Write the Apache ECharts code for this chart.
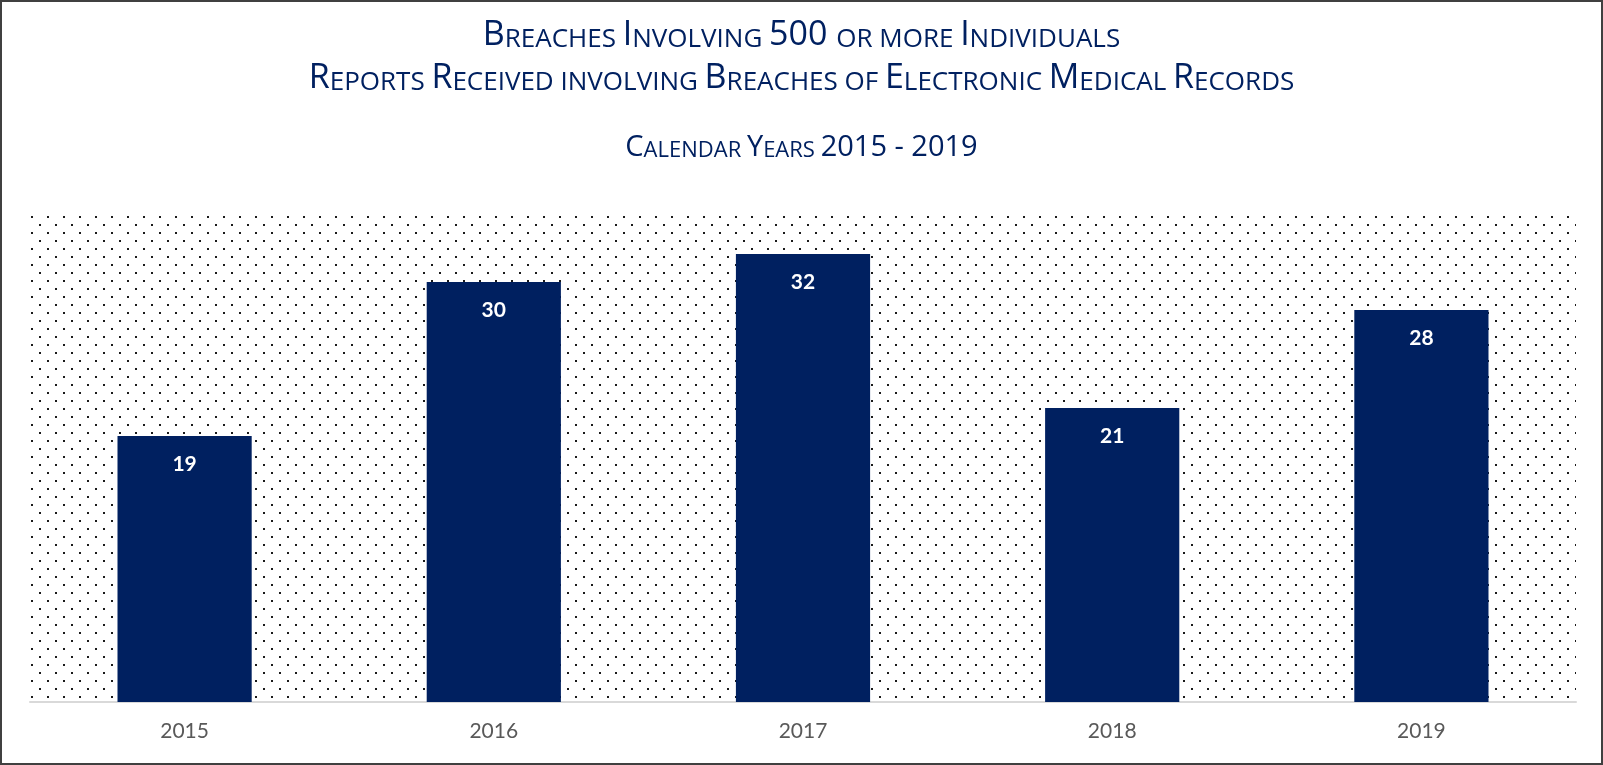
<!DOCTYPE html>
<html>
<head>
<meta charset="utf-8">
<script src="https://cdn.jsdelivr.net/npm/echarts@6/dist/echarts.min.js"></script>
<style>
  html, body { margin: 0; padding: 0; background: #ffffff; }
  #chart { width: 1603px; height: 765px; }
</style>
</head>
<body>
<div id="chart"></div>
<script>
// Chart data
const years = ['2015', '2016', '2017', '2018', '2019'];
const breaches = [19, 30, 32, 21, 28];
const titleLines = [
  'Breaches Involving 500 or more Individuals',
  'Reports Received involving Breaches of Electronic Medical Records',
  'Calendar Years 2015 - 2019'
];

const NAVY = '#002060';
const FONT = 'Lato, "Open Sans", sans-serif';
const TITLE_FONT = '"Open Sans", Lato, sans-serif';

// Dotted fill for the plot area: staggered 2px dots on a 16px tile
function dotTile() {
  const c = document.createElement('canvas');
  c.width = 16; c.height = 16;
  const ctx = c.getContext('2d');
  ctx.fillStyle = '#1a1a1a';
  ctx.fillRect(15, 8, 2, 2);
  ctx.fillRect(-1, 8, 2, 2);
  ctx.fillRect(7, 0, 2, 2);
  return c;
}

// Small-caps imitation: capitals/digits at full size, lowercase as smaller capitals
function smallCaps(str, big, small) {
  let out = '';
  let run = '', runSmall = null;
  const flush = () => {
    if (run) out += '{' + (runSmall ? small : big) + '|' + run + '}';
    run = '';
  };
  for (const ch of str) {
    const isSmall = ch !== ch.toUpperCase();
    const isSpace = ch === ' ';
    if (!isSpace && runSmall !== null && isSmall !== runSmall) flush();
    if (!isSpace) runSmall = isSmall;
    run += isSmall ? ch.toUpperCase() : ch;
  }
  flush();
  return out;
}

function titleText(str, top, big, small) {
  const base = { fontFamily: TITLE_FONT, fontWeight: 'normal', color: NAVY, verticalAlign: 'bottom', lineHeight: big * 1.2 };
  return {
    text: smallCaps(str, 'b', 's'),
    left: 'center',
    top: top,
    textStyle: {
      fontWeight: 'normal',
      rich: {
        b: Object.assign({}, base, { fontSize: big }),
        s: Object.assign({}, base, { fontSize: small })
      }
    }
  };
}

const chart = echarts.init(document.getElementById('chart'), null, { renderer: 'canvas' });

chart.setOption({
  animation: false,
  backgroundColor: '#ffffff',
  title: [
    titleText(titleLines[0], 7, 34, 26),
    titleText(titleLines[1], 50, 34, 26),
    titleText(titleLines[2], 122, 29, 22)
  ],
  graphic: [{
    type: 'rect',
    shape: { x: 1, y: 1, width: 1601, height: 763 },
    style: { fill: 'none', stroke: '#404040', lineWidth: 2 },
    silent: true
  }],
  grid: {
    left: 30, right: 27, top: 212, bottom: 63,
    show: true,
    borderWidth: 0,
    backgroundColor: { image: dotTile(), repeat: 'repeat' }
  },
  xAxis: {
    type: 'category',
    data: years,
    axisLine: { show: true, lineStyle: { color: '#d9d9d9', width: 2 } },
    axisTick: { show: false },
    axisLabel: { color: '#595959', fontFamily: FONT, fontSize: 21, margin: 19 }
  },
  yAxis: {
    type: 'value',
    min: 0, max: 35,
    show: false,
    splitLine: { show: false }
  },
  series: [{
    type: 'bar',
    data: breaches,
    barCategoryGap: '56.6%',
    itemStyle: { color: NAVY },
    label: {
      show: true,
      position: 'insideTop',
      distance: 18,
      color: '#ffffff',
      fontFamily: FONT,
      fontWeight: 'bold',
      fontSize: 21
    }
  }]
});
</script>
</body>
</html>
